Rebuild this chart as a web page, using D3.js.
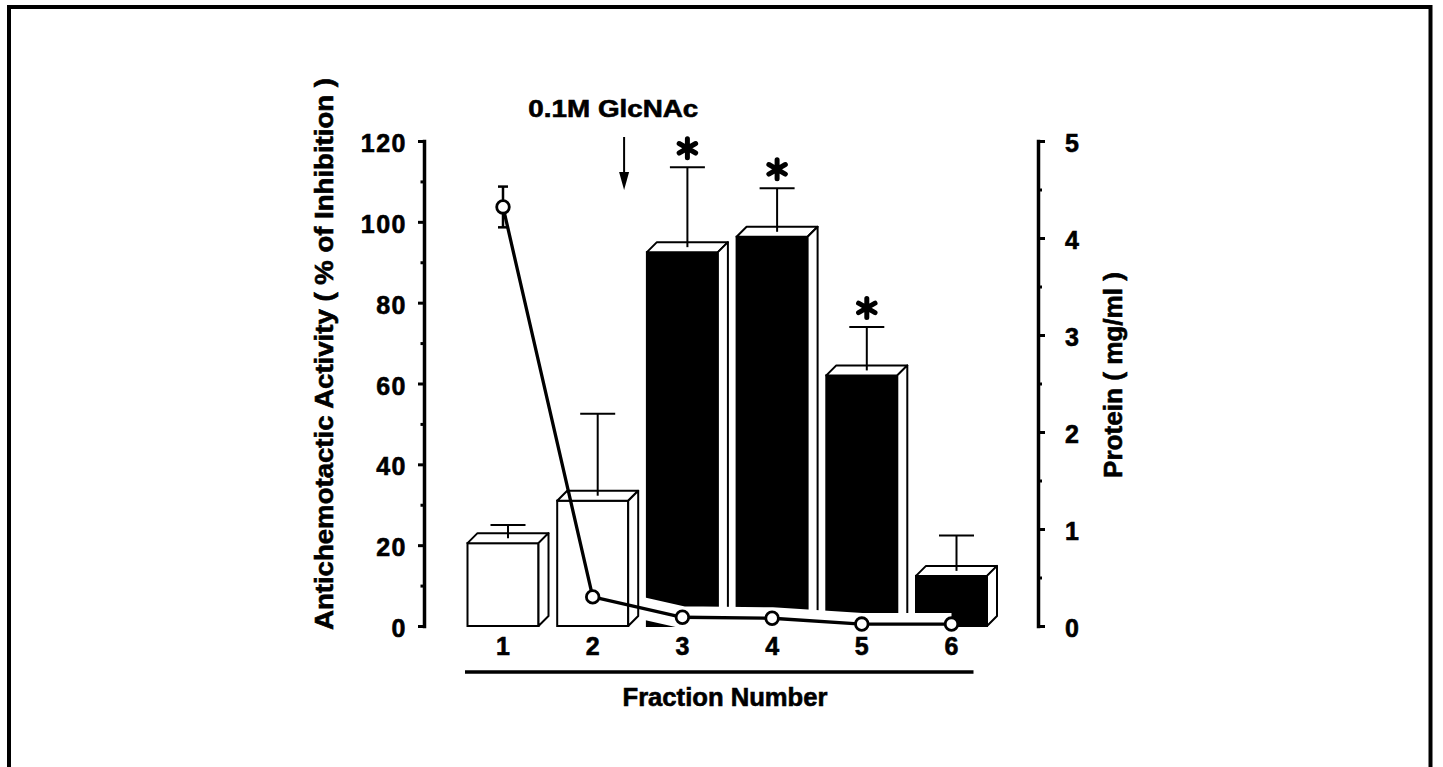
<!DOCTYPE html>
<html><head><meta charset="utf-8">
<script src="https://cdn.jsdelivr.net/npm/d3@7"></script>
<style>
body{margin:0;background:#fff}
svg{display:block}
text{font-family:"Liberation Sans",Arial,Helvetica,sans-serif;font-weight:bold;fill:#000;stroke:#000;stroke-width:0.6px}
</style>
</head><body><svg id="c" width="1443" height="767"></svg>
<script>
// ---- data ----
const fractions = [1, 2, 3, 4, 5, 6];
const activity = [20.5, 31, 92.5, 96.3, 62, 12.4];      // % of inhibition
const activitySD = [4.5, 21.5, 21, 12, 12, 10];
const filled = [false, false, true, true, true, true];   // eluted with GlcNAc
const significant = [false, false, true, true, true, false];
const protein = [4.32, 0.30, 0.09, 0.08, 0.02, 0.02];     // mg/ml
const proteinSD = [0.21, 0, 0, 0, 0, 0];
const leftTicks = [0, 20, 40, 60, 80, 100, 120];
const leftMinor = [10, 30, 50, 70, 90, 110];
const rightTicks = [0, 1, 2, 3, 4, 5];
const rightMinor = [0.5, 1.5, 2.5, 3.5, 4.5];
const leftTitle = "Antichemotactic Activity ( % of Inhibition )";
const rightTitle = "Protein ( mg/ml )";
const xTitle = "Fraction Number";
const annotation = "0.1M GlcNAc";

// ---- layout ----
const svg = d3.select("#c");
svg.append("rect").attr("x", 9).attr("y", 7).attr("width", 1421.5).attr("height", 820)
  .attr("fill", "none").attr("stroke", "#000").attr("stroke-width", 4);

const yL = d3.scaleLinear().domain([0, 120]).range([626, 141]);
const yR = d3.scaleLinear().domain([0, 5]).range([626, 141]);
const x = d3.scalePoint().domain(fractions).range([503, 951.5]);
const bw = 71, dep = 10;
const axL = 424, axR = 1038;

function styleAxis(g, size) {
  g.attr("font-size", size).attr("font-family", null);
  g.select(".domain").attr("stroke-width", 3.5).attr("stroke-linecap", "square");
  g.selectAll(".tick line").attr("stroke-width", 3);
  g.selectAll(".tick text").attr("dy", "0.42em").style("letter-spacing", "1.5px");
}

// left axis
const gL = svg.append("g").attr("transform", `translate(${axL},0)`);
gL.call(d3.axisLeft(yL).tickValues(leftTicks).tickSize(6).tickSizeOuter(0).tickPadding(11));
styleAxis(gL, 25);
const gLm = svg.append("g").attr("transform", `translate(${axL},0)`);
gLm.call(d3.axisLeft(yL).tickValues(leftMinor).tickSize(3.5).tickFormat(""));
gLm.select(".domain").remove();
gLm.selectAll(".tick line").attr("stroke-width", 3);

// right axis
const gR = svg.append("g").attr("transform", `translate(${axR},0)`);
gR.call(d3.axisRight(yR).tickValues(rightTicks).tickFormat(d3.format("d")).tickSize(7).tickSizeOuter(0).tickPadding(20));
styleAxis(gR, 25);
const gRm = svg.append("g").attr("transform", `translate(${axR},0)`);
gRm.call(d3.axisRight(yR).tickValues(rightMinor).tickSize(4).tickFormat(""));
gRm.select(".domain").remove();
gRm.selectAll(".tick line").attr("stroke-width", 3);

// titles
svg.append("text").attr("transform", "translate(333,354) rotate(-90)")
  .attr("text-anchor", "middle").attr("font-size", 25)
  .attr("textLength", 552).attr("lengthAdjust", "spacingAndGlyphs").text(leftTitle);
svg.append("text").attr("transform", "translate(1122,375) rotate(-90)")
  .attr("text-anchor", "middle").attr("font-size", 25)
  .attr("textLength", 206).attr("lengthAdjust", "spacingAndGlyphs").text(rightTitle);
svg.append("text").attr("x", 725).attr("y", 706).attr("text-anchor", "middle")
  .attr("font-size", 25).attr("textLength", 205).attr("lengthAdjust", "spacingAndGlyphs").text(xTitle);

// x labels and rule
svg.selectAll("text.xl").data(fractions).enter().append("text").attr("class", "xl")
  .attr("x", d => x(d)).attr("y", 655).attr("text-anchor", "middle").attr("font-size", 25)
  .text(d => d);
svg.append("line").attr("x1", x(1) - 38).attr("x2", x(6) + 22).attr("y1", 672).attr("y2", 672)
  .attr("stroke", "#000").attr("stroke-width", 3.5);

// annotation arrow
const ax = x(2) + (x(3) - x(2)) * 0.35;
svg.append("text").attr("x", x(2) + (x(3) - x(2)) * 0.23).attr("y", 116.5).attr("text-anchor", "middle")
  .attr("font-size", 24).attr("textLength", 170).attr("lengthAdjust", "spacingAndGlyphs").text(annotation);
svg.append("line").attr("x1", ax).attr("x2", ax).attr("y1", 137).attr("y2", 176)
  .attr("stroke", "#000").attr("stroke-width", 2);
svg.append("path").attr("d", `M${ax - 5},172 L${ax + 5},172 L${ax},190 Z`).attr("fill", "#000");

// bars
const bars = fractions.map((f, i) => ({ f, v: activity[i], sd: activitySD[i], filled: filled[i], sig: significant[i] }));
function drawBars(g, data) {
  const b = g.selectAll("g").data(data).enter().append("g");
  b.append("rect")
    .attr("x", d => x(d.f) - bw / 2).attr("y", d => yL(d.v))
    .attr("width", bw).attr("height", d => yL(0) - yL(d.v))
    .attr("fill", d => d.filled ? "#000" : "#fff").attr("stroke", "#000").attr("stroke-width", 2);
  b.append("path").attr("d", d => {
    const x0 = x(d.f) - bw / 2, yt = yL(d.v);
    return `M${x0},${yt}L${x0 + dep},${yt - dep}L${x0 + bw + dep},${yt - dep}L${x0 + bw},${yt}Z`;
  }).attr("fill", "#fff").attr("stroke", "#000").attr("stroke-width", 2).attr("stroke-linejoin", "round");
  b.append("path").attr("d", d => {
    const x0 = x(d.f) - bw / 2, yt = yL(d.v), y0 = yL(0);
    return `M${x0 + bw},${yt}L${x0 + bw + dep},${yt - dep}L${x0 + bw + dep},${y0 - dep}L${x0 + bw},${y0}Z`;
  }).attr("fill", "#fff").attr("stroke", "#000").attr("stroke-width", 2).attr("stroke-linejoin", "round");
}
drawBars(svg.append("g"), bars.filter(d => d.filled));

// white halo of the protein line
const pts = fractions.map((f, i) => ({ f, p: protein[i], sd: proteinSD[i] }));
const line = d3.line().x(d => x(d.f)).y(d => yR(d.p));
svg.append("path").attr("d", line(pts)).attr("fill", "none")
  .attr("stroke", "#fff").attr("stroke-width", 22).attr("stroke-linejoin", "round");

drawBars(svg.append("g"), bars.filter(d => !d.filled));

// error bars on bars
const eb = svg.append("g").attr("stroke", "#000").attr("stroke-width", 2);
bars.forEach(d => {
  const wx = x(d.f) + dep / 2, yTop = yL(d.v + d.sd);
  eb.append("line").attr("x1", wx).attr("x2", wx).attr("y1", yL(d.v) - dep / 2).attr("y2", yTop);
  eb.append("line").attr("x1", wx - 17.5).attr("x2", wx + 17.5).attr("y1", yTop).attr("y2", yTop);
});

// significance asterisks
const star = d3.symbol(d3.symbolAsterisk, 255);
svg.selectAll("path.star").data(bars.filter(d => d.sig)).enter().append("path").attr("class", "star")
  .attr("d", star).attr("transform", d => `translate(${x(d.f) + dep / 2},${yL(d.v + d.sd) - 19})`)
  .attr("fill", "none").attr("stroke", "#000").attr("stroke-width", 5).attr("stroke-linecap", "round");

// protein line
svg.append("path").attr("d", line(pts)).attr("fill", "none")
  .attr("stroke", "#000").attr("stroke-width", 3.3).attr("stroke-linejoin", "round");
const pe = svg.append("g").attr("stroke", "#000").attr("stroke-width", 2.5);
pts.filter(d => d.sd > 0).forEach(d => {
  const px = x(d.f);
  pe.append("line").attr("x1", px).attr("x2", px).attr("y1", yR(d.p + d.sd)).attr("y2", yR(d.p - d.sd));
  [d.p + d.sd, d.p - d.sd].forEach(v => pe.append("line").attr("x1", px - 5).attr("x2", px + 5).attr("y1", yR(v)).attr("y2", yR(v)));
});
svg.selectAll("circle.pt").data(pts).enter().append("circle").attr("class", "pt")
  .attr("cx", d => x(d.f)).attr("cy", d => yR(d.p)).attr("r", 6.3)
  .attr("fill", "#fff").attr("stroke", "#000").attr("stroke-width", 2.8);
</script>
</body></html>
